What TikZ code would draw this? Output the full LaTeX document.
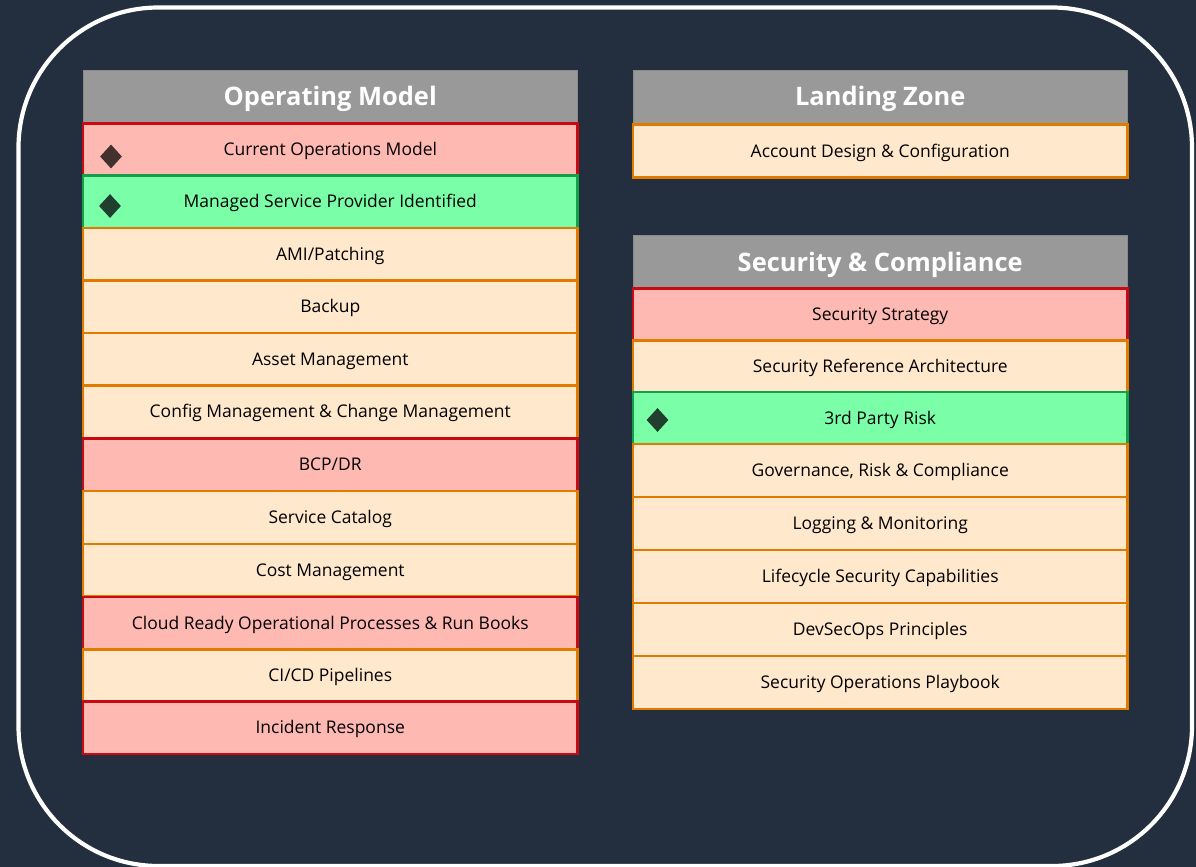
\documentclass[tikz,border=0pt]{standalone}
\usepackage{fontspec}
\setmainfont{Open Sans}
\definecolor{bgc}{HTML}{232F3E}
\definecolor{hdr}{HTML}{999999}
\definecolor{redf}{HTML}{FFB9B3}
\definecolor{redl}{HTML}{C90A12}
\definecolor{grnf}{HTML}{7AFFA8}
\definecolor{grnl}{HTML}{14A04A}
\definecolor{orgf}{HTML}{FFE8CC}
\definecolor{orgl}{HTML}{E07B00}
\definecolor{dmdr}{HTML}{433130}
\definecolor{dmdg}{HTML}{203F2E}
\newlength{\px}\setlength{\px}{0.75pt}
\tikzset{
  x=0.75pt,y=-0.75pt,
  rowbox/.style={draw,line width=2.7\px,minimum width=494.5\px,inner sep=0pt,outer sep=0pt,anchor=north west,text height=9.3pt,text depth=0pt,font=\fontsize{13.1pt}{15pt}\selectfont,text=black},
  redrow/.style={rowbox,fill=redf,draw=redl},
  grnrow/.style={rowbox,fill=grnf,draw=grnl},
  orgrow/.style={rowbox,fill=orgf,draw=orgl},
  headbox/.style={fill=hdr,draw=hdr!90!black,line width=0.6\px,minimum width=494.5\px,inner sep=0pt,outer sep=0pt,anchor=north west,text height=13.6pt,text depth=0pt,text=white,font=\fontsize{19.1pt}{22pt}\selectfont\bfseries},
  flag/.style={diamond,inner sep=0pt,minimum width=22\px,minimum height=24\px,draw=none},
}
\usetikzlibrary{shapes.geometric}
\newcommand{\rowat}[6]{\node[#2,minimum height=#5\px] (#1) at (#3,#4) {#6};}
\begin{document}
\begin{tikzpicture}
\useasboundingbox (0,0) rectangle (1196,867);
\fill[bgc] (0,0) rectangle (1196,867);
\draw[white,line width=4.2\px,rounded corners=140\px] (18.5,7.5) rectangle (1192,866);
% Operating Model
\rowat{hOM}{headbox}{83}{70}{53}{Operating Model}
\rowat{a1}{redrow}{83}{123.5}{52}{Current Operations Model}
\rowat{a2}{grnrow}{83}{175.5}{52.5}{Managed Service Provider Identified}
\rowat{a3}{orgrow}{83}{228}{52.5}{AMI/Patching}
\rowat{a4}{orgrow}{83}{280.5}{52.5}{Backup}
\rowat{a5}{orgrow}{83}{333}{52.5}{Asset Management}
\rowat{a6}{orgrow}{83}{385.5}{52.5}{Config Management \& Change Management}
\rowat{a7}{redrow}{83}{438.5}{52.5}{BCP/DR}
\rowat{a8}{orgrow}{83}{491}{53}{Service Catalog}
\rowat{a9}{orgrow}{83}{544}{52}{Cost Management}
\rowat{a10}{redrow}{83}{597}{52.5}{Cloud Ready Operational Processes \& Run Books}
\rowat{a11}{orgrow}{83}{649.5}{52}{CI/CD Pipelines}
\rowat{a12}{redrow}{83}{701.5}{52.5}{Incident Response}
% Landing Zone
\rowat{hLZ}{headbox}{633}{70}{53}{Landing Zone}
\rowat{b1}{orgrow}{633}{124.5}{53}{Account Design \& Configuration}
% Security & Compliance
\rowat{hSC}{headbox}{633}{235.5}{53}{Security \& Compliance}
\rowat{c1}{redrow}{633}{288.5}{52}{Security Strategy}
\rowat{c2}{orgrow}{633}{340.5}{51.5}{Security Reference Architecture}
\rowat{c3}{grnrow}{633}{392}{52}{3rd Party Risk}
\rowat{c4}{orgrow}{633}{444}{53}{Governance, Risk \& Compliance}
\rowat{c5}{orgrow}{633}{497}{53}{Logging \& Monitoring}
\rowat{c6}{orgrow}{633}{550}{53}{Lifecycle Security Capabilities}
\rowat{c7}{orgrow}{633}{603}{53}{DevSecOps Principles}
\rowat{c8}{orgrow}{633}{656}{53}{Security Operations Playbook}
% Flags
\node[flag,fill=dmdr] (d1) at (111,156.5) {};
\node[flag,fill=dmdg] (d2) at (110,206) {};
\node[flag,fill=dmdg] (d3) at (657.5,420) {};
\end{tikzpicture}
\end{document}
